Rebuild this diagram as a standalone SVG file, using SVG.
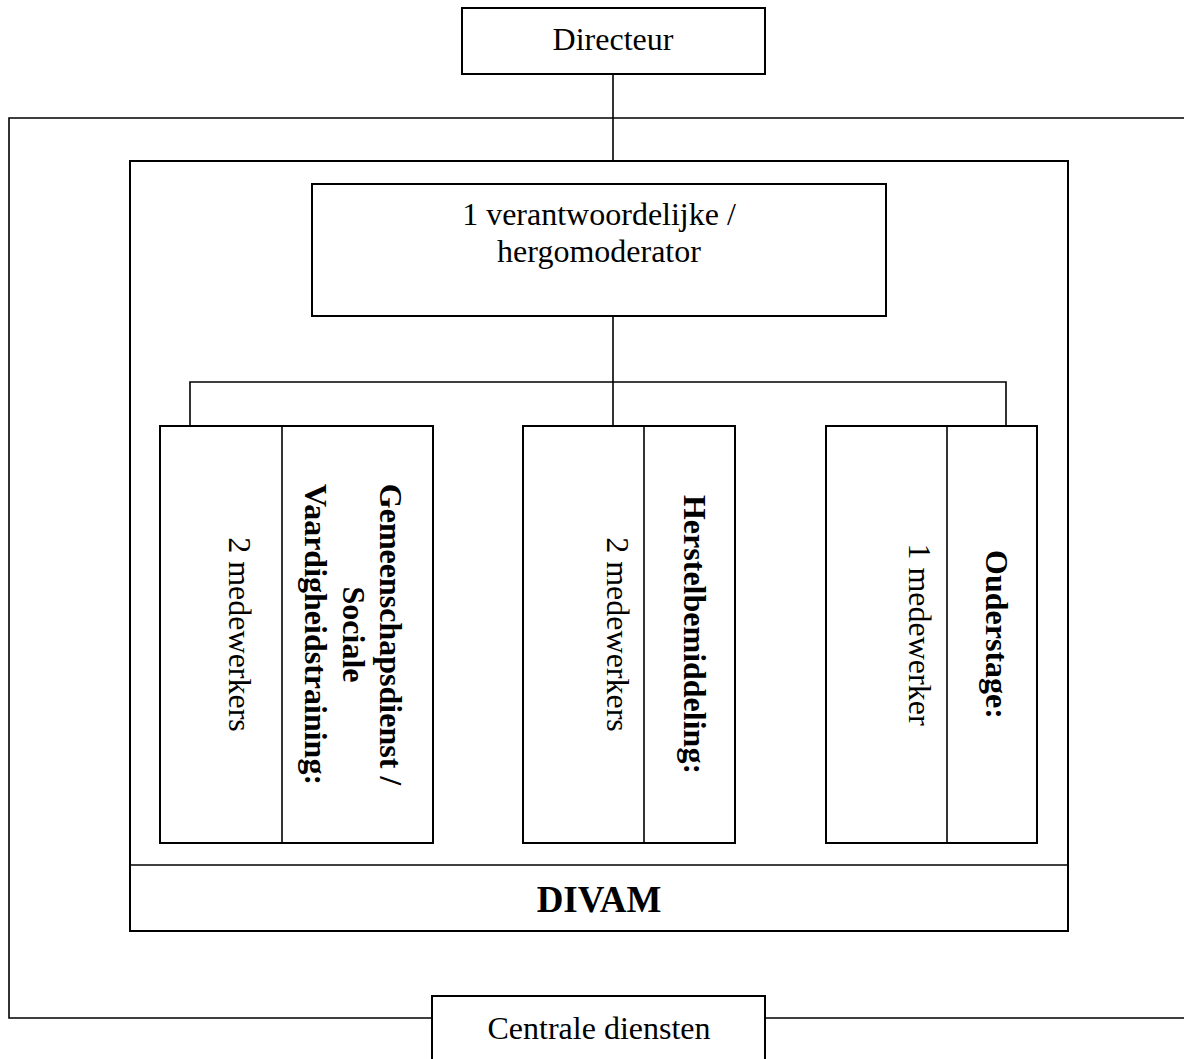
<svg xmlns="http://www.w3.org/2000/svg" width="1184" height="1059" viewBox="0 0 1184 1059">
<style>
  .box { fill: #ffffff; stroke: #000000; stroke-width: 2; }
  .ln { fill: none; stroke: #000000; stroke-width: 1.6; }
  .t { font-family: "Liberation Serif", "Times New Roman", serif; font-size: 32px; fill: #000000; text-anchor: middle; }
  .b { font-weight: bold; }
  .big { font-size: 37px; }
</style>
<rect width="1184" height="1059" fill="#ffffff"/>
<g id="centrale-frame">
  <path class="ln" d="M1190 118 L9 118 L9 1018 L432 1018 M765 1018 L1190 1018" stroke-width="2"/>
</g>
<g id="divam">
  <rect class="box" x="130" y="161" width="938" height="770"/>
  <line class="ln" x1="130" y1="865" x2="1068" y2="865" stroke-width="2.4"/>
  <text class="t b big" x="599" y="912">DIVAM</text>
</g>
<g id="connectors">
  <line class="ln" x1="613" y1="74" x2="613" y2="161"/>
  <line class="ln" x1="613" y1="316" x2="613" y2="426"/>
  <polyline class="ln" points="190,426 190,382 1006,382 1006,426"/>
</g>
<g id="directeur">
  <rect class="box" x="462" y="8" width="303" height="66"/>
  <text class="t" x="613" y="50">Directeur</text>
</g>
<g id="verantwoordelijke">
  <rect class="box" x="312" y="184" width="574" height="132"/>
  <text class="t" x="599" y="225">1 verantwoordelijke /</text>
  <text class="t" x="599" y="262">hergomoderator</text>
</g>
<g id="gemeenschapsdienst">
  <rect class="box" x="160" y="426" width="273" height="417"/>
  <line class="ln" x1="282" y1="426" x2="282" y2="843" stroke-width="2"/>
  <text class="t" transform="translate(229 634.5) rotate(90)">2 medewerkers</text>
  <text class="t b" transform="translate(380 634.5) rotate(90)">Gemeenschapsdienst /</text>
  <text class="t b" transform="translate(342.5 634.5) rotate(90)">Sociale</text>
  <text class="t b" transform="translate(305 634.5) rotate(90)">Vaardigheidstraining:</text>
</g>
<g id="herstelbemiddeling">
  <rect class="box" x="523" y="426" width="212" height="417"/>
  <line class="ln" x1="644" y1="426" x2="644" y2="843" stroke-width="2"/>
  <text class="t" transform="translate(607 634.5) rotate(90)">2 medewerkers</text>
  <text class="t b" transform="translate(684 634.5) rotate(90)">Herstelbemiddeling:</text>
</g>
<g id="ouderstage">
  <rect class="box" x="826" y="426" width="211" height="417"/>
  <line class="ln" x1="947" y1="426" x2="947" y2="843" stroke-width="2"/>
  <text class="t" transform="translate(909 634.5) rotate(90)">1 medewerker</text>
  <text class="t b" transform="translate(986 634.5) rotate(90)">Ouderstage:</text>
</g>
<g id="centrale-diensten">
  <rect class="box" x="432" y="996" width="333" height="80"/>
  <text class="t" x="599" y="1039">Centrale diensten</text>
</g>
</svg>
